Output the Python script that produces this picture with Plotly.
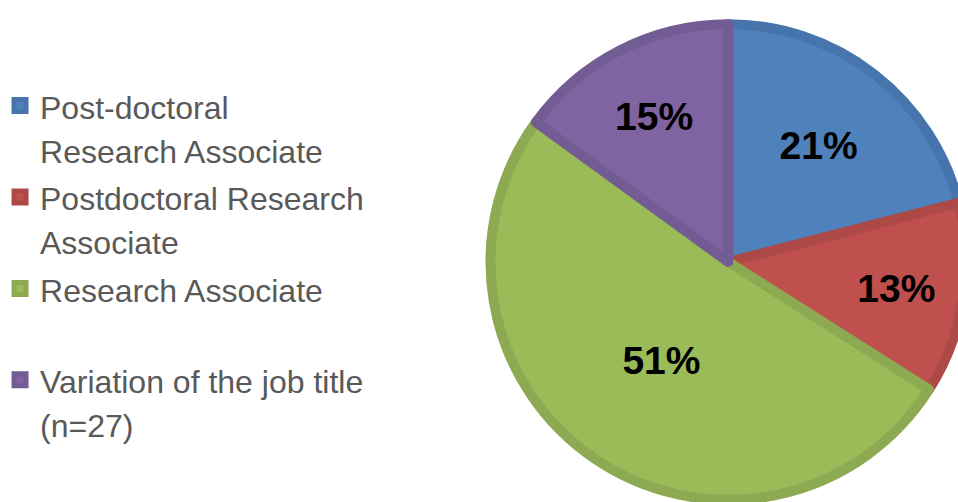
import plotly.graph_objects as go

labels = [
    "Post-doctoral<br>Research Associate",
    "Postdoctoral Research<br>Associate",
    "Research Associate<br> ",
    "Variation of the job title<br>(n=27)",
]
values = [21, 13, 51, 15]
fill_colors = ["#4F81BD", "#C0504D", "#9BBB59", "#8064A2"]
edge_colors = ["#4774AB", "#AD4A47", "#8DAA52", "#735B93"]

W, H = 980, 510
cx, cy, R = 727, 262, 239  # pie centre and radius in pixels

legend_labels = ["<span style='font-size:32px'>%s</span>" % t for t in labels]

fig = go.Figure(
    go.Pie(
        labels=legend_labels,
        values=values,
        sort=False,
        direction="clockwise",
        rotation=0,
        marker=dict(colors=fill_colors, line=dict(color=edge_colors, width=10)),
        textinfo="percent",
        textposition="inside",
        insidetextorientation="horizontal",
        textfont=dict(family="Arial, Liberation Sans, sans-serif", size=39, color="black", weight="bold"),
        domain=dict(x=[(cx - R) / W, (cx + R) / W], y=[(H - cy - R) / H, (H - cy + R) / H]),
        hoverinfo="label+percent",
    )
)

fig.update_layout(
    width=W,
    height=H,
    margin=dict(l=0, r=0, t=0, b=0),
    paper_bgcolor="white",
    plot_bgcolor="white",
    showlegend=True,
    legend=dict(
        x=-5 / W,
        y=1 - 77 / H,
        xanchor="left",
        yanchor="top",
        valign="top",
        font=dict(family="Arial, Liberation Sans, sans-serif", size=34, color="#595959"),
        bgcolor="rgba(0,0,0,0)",
        itemclick=False,
        itemdoubleclick=False,
    ),
)

fig.write_html(
    "out.html",
    post_script="document.documentElement.style.overflow='hidden';document.body.style.overflow='hidden';document.body.style.margin='0';",
)
